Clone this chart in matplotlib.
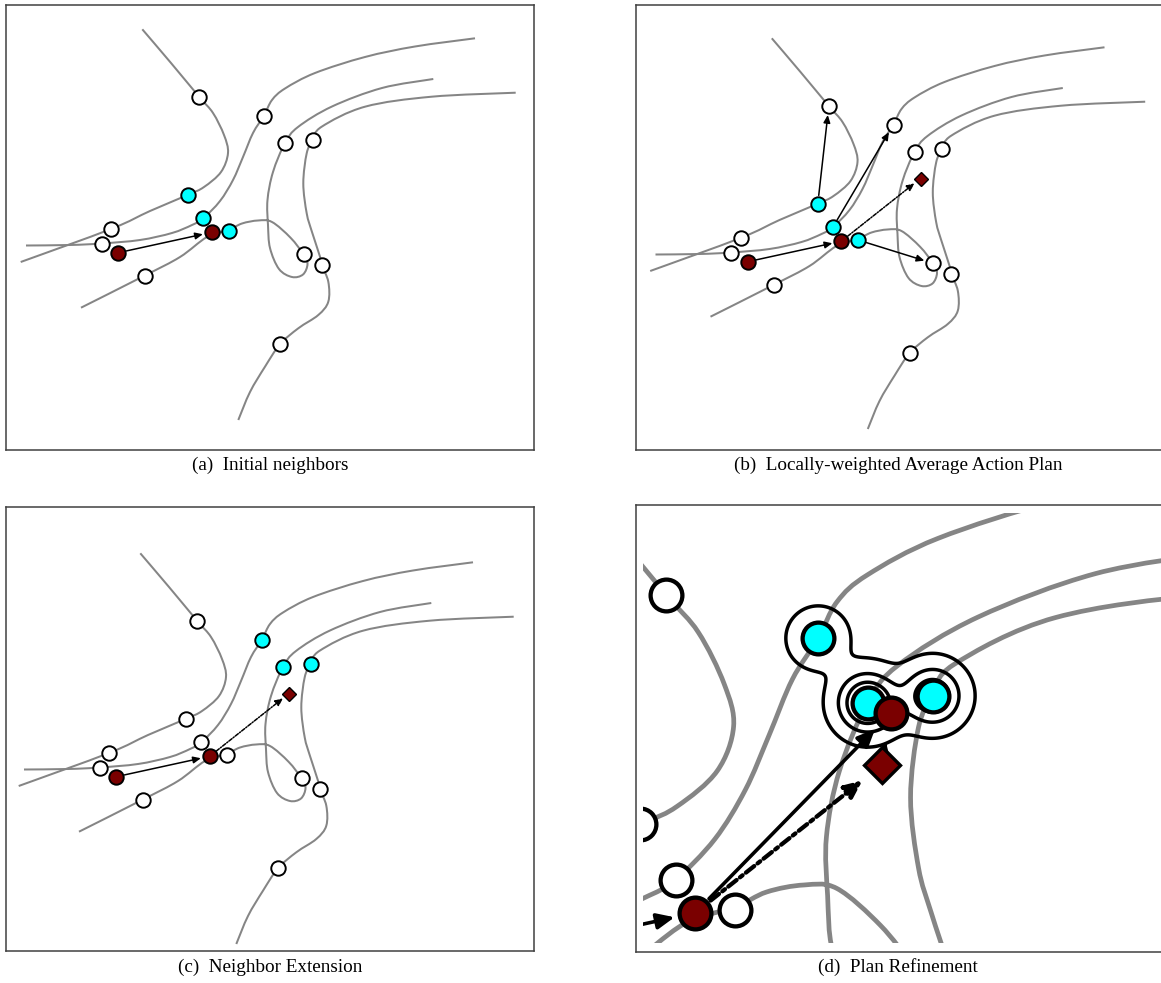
import numpy as np
import matplotlib
matplotlib.use("Agg")
import matplotlib.pyplot as plt
from matplotlib.path import Path
from matplotlib.patches import PathPatch, FancyArrowPatch

plt.rcParams['font.family'] = ['Liberation Serif', 'DejaVu Serif']

# demonstration trajectories (scene coords, y grows downwards)
traj1_x = [142.3, 171, 199.3, 213, 224, 228, 221, 204, 188.3, 150, 111, 20.7]
traj1_y = [29.3, 63, 97, 113, 135, 153, 172, 187, 194.7, 211, 229, 262]
traj2_x = [26, 70, 101.5, 140, 172, 192, 203.3, 220, 233, 243, 253, 264, 272, 285, 315, 365, 415, 475]
traj2_y = [245.5, 245, 243.5, 240, 233, 225, 218.3, 201, 180, 157, 133, 115.5, 100, 88.5, 73, 57, 46.5, 38.3]
traj3_x = [81, 144.5, 180, 207, 228.5, 242, 258, 272, 290.5, 303.5, 307.5, 303, 292, 279, 270, 268,
           267.5, 273, 285, 298, 332, 382, 433.3]
traj3_y = [307.7, 275.7, 257, 237, 230, 223.5, 220.5, 222, 237.7, 254.3, 264, 274.5, 277, 269, 248, 225,
           200, 172, 143, 127, 106.5, 88, 79]
traj4_x = [515.7, 431.7, 365, 321.7, 312.7, 306.7, 303.3, 306.7, 312, 320, 321.5, 328.3, 328.3, 318.3,
           298.3, 280, 265, 250, 238.3]
traj4_y = [92.7, 96.7, 106.7, 126.7, 140, 153.3, 183.3, 213.3, 232, 256.7, 264.5, 281.7, 301.7, 315,
           328.3, 344.3, 366.7, 392, 420]

# demonstration states
state_x = [199.3, 264.0, 285.0, 312.7, 111.0, 101.5, 144.5, 303.5, 321.5, 280.0, 188.3, 203.3, 228.5]
state_y = [97.0, 115.5, 143.0, 140.0, 229.0, 244.0, 275.7, 254.3, 264.5, 344.3, 194.7, 218.3, 231.0]

neighbors_init = [10, 11, 12]
successors = [0, 1, 7]
neighbors_ext = [1, 2, 3]
kde_weights = [0.55, 2.0, 1.6]
kde_levels = [0.125, 0.6, 1.1]

# query states, averaged plan, refined plan
query_x = [118.3, 211.7]
query_y = [252.7, 232.3]
plan_x, plan_y = 291.0, 169.5
refined_x, refined_y = 295.0, 147.2

captions = ['(a)  Initial neighbors', '(b)  Locally-weighted Average Action Plan',
            '(c)  Neighbor Extension', '(d)  Plan Refinement']

GRAY = '#858585'
DARK = '#7a0000'
W, H = 1161, 983

fig = plt.figure(figsize=(W / 100, H / 100), dpi=100)


def px_axes(x0, y0, x1, y1):
    return fig.add_axes([x0 / W, 1 - y1 / H, (x1 - x0) / W, (y1 - y0) / H])


def smooth_path(xs, ys):
    pts = np.column_stack([xs, ys])
    p = np.vstack([pts[0], pts, pts[-1]])
    verts = [pts[0]]
    codes = [Path.MOVETO]
    for i in range(1, len(p) - 2):
        p0, p1, p2, p3 = p[i - 1], p[i], p[i + 1], p[i + 2]
        verts += [p1 + (p2 - p0) / 6, p2 - (p3 - p1) / 6, p2]
        codes += [Path.CURVE4] * 3
    return Path(verts, codes)


def arrow(ax, p0, p1, k, ls='-', sa=6.0, sb=6.5, lw=1.1):
    ax.add_patch(FancyArrowPatch(p0, p1, arrowstyle='-|>,head_length=0.45,head_width=0.2',
                                 mutation_scale=10 * k, lw=lw * k, ls=ls, color='black',
                                 shrinkA=sa * k, shrinkB=sb * k, zorder=3))


def draw_scene(ax, cyan_idx, k=1.0, km=1.0):
    for tx, ty in [(traj1_x, traj1_y), (traj2_x, traj2_y), (traj3_x, traj3_y), (traj4_x, traj4_y)]:
        ax.add_patch(PathPatch(smooth_path(tx, ty), fc='none', ec=GRAY, lw=1.45 * k, zorder=1))
    for i in range(len(state_x)):
        fc = 'cyan' if i in cyan_idx else 'white'
        ax.plot(state_x[i], state_y[i], 'o', ms=10.4 * km, mfc=fc, mec='black', mew=1.4 * km, zorder=5)
    ax.plot(query_x, query_y, 'o', ls='none', ms=10.4 * km, mfc=DARK, mec='black', mew=1.4 * km, zorder=5)
    arrow(ax, (query_x[0], query_y[0]), (query_x[1], query_y[1]), k)


def frame(ax, xlim, ylim):
    ax.set_xlim(*xlim)
    ax.set_ylim(*ylim)
    ax.set_xticks([])
    ax.set_yticks([])
    for s in ax.spines.values():
        s.set_color('#404040')
        s.set_linewidth(1.1)


dashdot = (0, (2.5, 1.0, 0.8, 1.0))

# (a)
ax = px_axes(5.7, 4.7, 533.7, 450)
frame(ax, (5.7, 533.7), (450, 4.7))
draw_scene(ax, neighbors_init)

# (b)
ax = px_axes(636, 4.7, 1163, 450)
frame(ax, (6.5, 533.5), (441, -4.3))
draw_scene(ax, neighbors_init)
for i, j in zip(neighbors_init, successors):
    arrow(ax, (state_x[i], state_y[i]), (state_x[j], state_y[j]), 1.0)
arrow(ax, (query_x[1], query_y[1]), (plan_x, plan_y), 1.0, ls=dashdot, sb=5.5)
ax.plot(plan_x, plan_y, 'D', ms=7.4, mfc=DARK, mec='black', mew=1.0, zorder=5)

# (c)
ax = px_axes(5.7, 507, 533.7, 951)
frame(ax, (7.7, 535.7), (427, -17))
draw_scene(ax, neighbors_ext)
arrow(ax, (query_x[1], query_y[1]), (plan_x, plan_y), 1.0, ls=dashdot, sb=5.5)
ax.plot(plan_x, plan_y, 'D', ms=7.4, mfc=DARK, mec='black', mew=1.0, zorder=5)

# (d) zoom on the refinement step
k = 2.35
km = 2.2
ax = px_axes(636.3, 505, 1163, 951.7)
frame(ax, (0, 1), (0, 1))
ax = px_axes(643.3, 513, 1161, 943)
ax.set_xlim(189.57, 409.87)
ax.set_ylim(245.19, 62.21)
ax.axis('off')
draw_scene(ax, neighbors_ext, k, km)
gx, gy = np.meshgrid(np.linspace(185, 415, 460), np.linspace(55, 250, 390))
sigma = 8.0
dens = np.zeros_like(gx)
for i, w in zip(neighbors_ext, kde_weights):
    dens += w * np.exp(-((gx - state_x[i]) ** 2 + (gy - state_y[i]) ** 2) / (2 * sigma ** 2))
ax.contour(gx, gy, dens, levels=kde_levels, colors='black', linewidths=2.5, zorder=2)
arrow(ax, (query_x[1], query_y[1]), (plan_x, plan_y), k, ls=dashdot, sb=7.5, lw=1.3)
arrow(ax, (query_x[1], query_y[1]), (refined_x, refined_y), k, sb=7.0)
arrow(ax, (plan_x, plan_y), (refined_x, refined_y), k, sa=6.0, sb=9.0)
ax.plot(plan_x, plan_y, 'D', ms=18.5, mfc=DARK, mec='black', mew=2.4, zorder=5)
ax.plot(refined_x, refined_y, 'o', ms=10.4 * km, mfc=DARK, mec='black', mew=1.4 * km, zorder=6)

for cap, (cx, cy) in zip(captions, [(270, 465), (898, 465), (270, 967), (898, 967)]):
    fig.text(cx / W, 1 - cy / H, cap, ha='center', va='center', fontsize=13.8)

fig.savefig('out.png', dpi=100)
